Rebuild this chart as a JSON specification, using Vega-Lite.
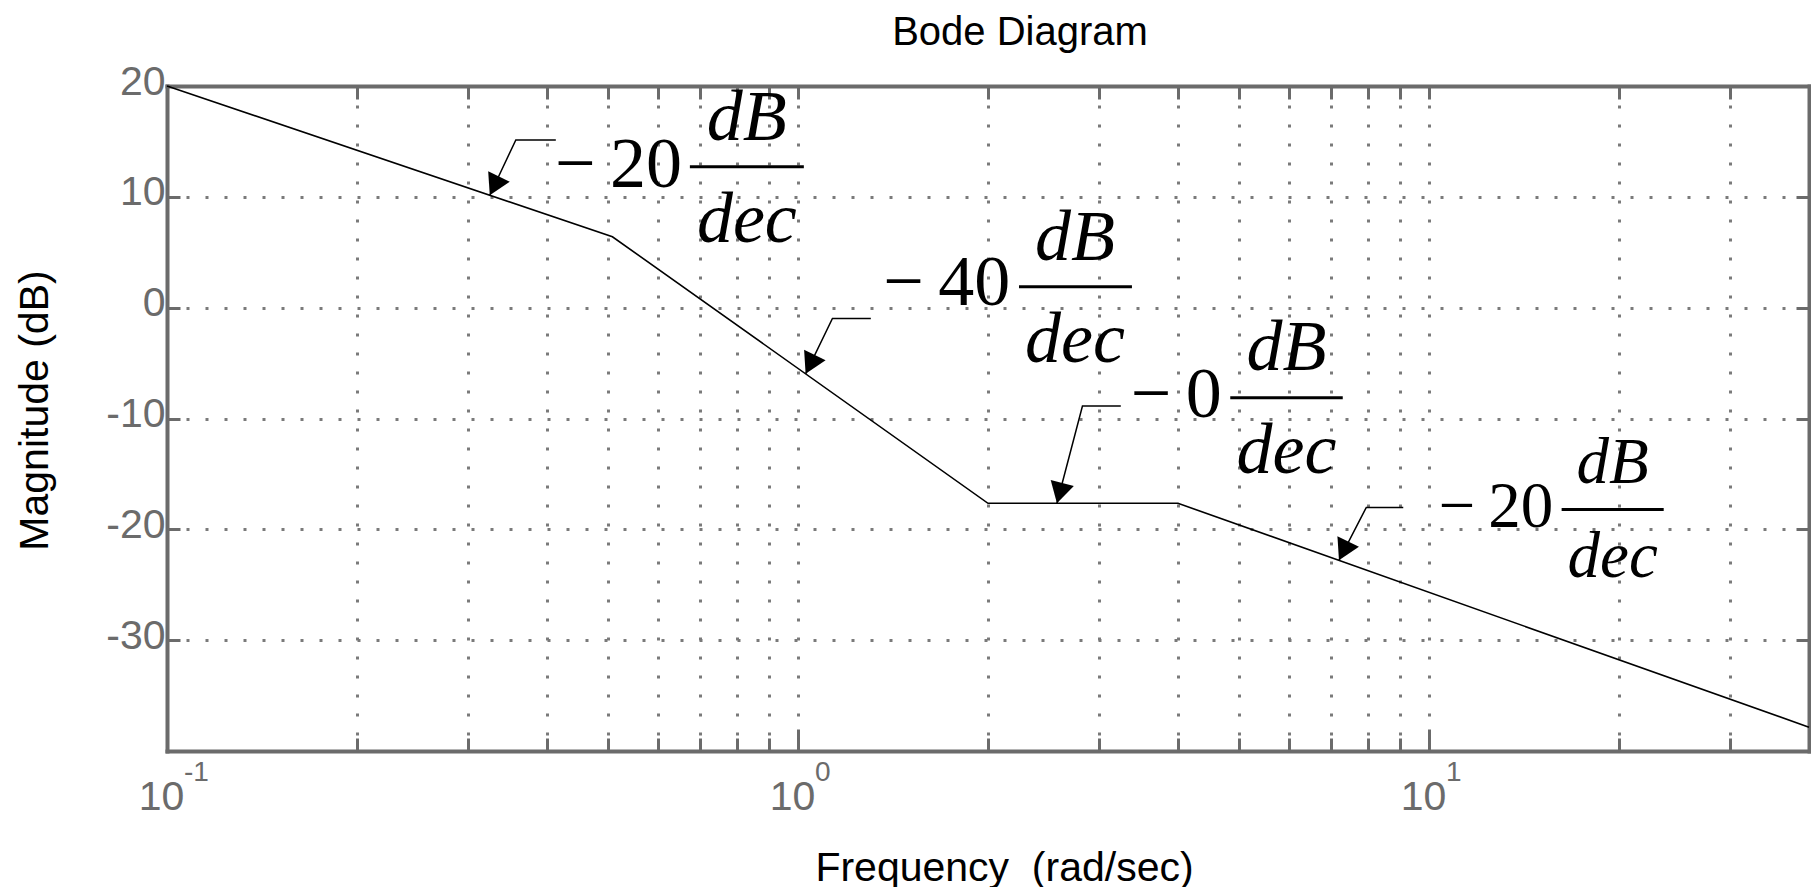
{
  "$schema": "https://vega.github.io/schema/vega-lite/v6.json",
  "width": 1642,
  "height": 665,
  "autosize": {"type": "none"},
  "padding": {"left": 167, "top": 86, "right": 2, "bottom": 136},
  "background": "white",
  "config": {"view": {"stroke": null}},
  "title": {
    "text": "Bode Diagram",
    "frame": "group",
    "anchor": "middle",
    "offset": -24,
    "baseline": "alphabetic",
    "dx": 32,
    "font": "Liberation Sans",
    "fontSize": 40,
    "fontWeight": "normal",
    "color": "black"
  },
  "datasets": {
    "bode": [
      {"f": 0.1, "db": 20},
      {"f": 0.508, "db": 6.4},
      {"f": 2, "db": -17.65},
      {"f": 4, "db": -17.65},
      {"f": 40, "db": -37.85}
    ],
    "leaders": [
      {"a": 1, "o": 1, "f": 0.4132, "db": 15.13},
      {"a": 1, "o": 2, "f": 0.3571, "db": 15.13},
      {"a": 1, "o": 3, "f": 0.3247, "db": 10.14},
      {"a": 2, "o": 1, "f": 1.3042, "db": -0.97},
      {"a": 2, "o": 2, "f": 1.1337, "db": -0.97},
      {"a": 2, "o": 3, "f": 1.0281, "db": -5.97},
      {"a": 3, "o": 1, "f": 3.247, "db": -8.88},
      {"a": 3, "o": 2, "f": 2.823, "db": -8.88},
      {"a": 3, "o": 3, "f": 2.572, "db": -17.65},
      {"a": 4, "o": 1, "f": 9.101, "db": -18.02},
      {"a": 4, "o": 2, "f": 7.953, "db": -18.02},
      {"a": 4, "o": 3, "f": 7.198, "db": -22.8}
    ],
    "bars": [
      {"id": 1, "f1": 0.6739, "f2": 1.0214, "db": 12.72},
      {"id": 2, "f1": 2.2396, "f2": 3.3817, "db": 1.89},
      {"id": 3, "f1": 4.841, "f2": 7.298, "db": -8.13},
      {"id": 4, "f1": 16.22, "f2": 23.54, "db": -18.2}
    ],
    "nums": [
      {"id": 1, "f": 0.4121, "db": 10.91, "t": "\u2212\u200920"},
      {"id": 2, "f": 1.3643, "db": 0.23, "t": "\u2212\u200940"},
      {"id": 3, "f": 3.368, "db": -9.85, "t": "\u2212\u20090"},
      {"id": 4, "f": 10.356, "db": -19.77, "t": "\u2212\u200920"}
    ],
    "fracs": [
      {"id": 1, "f": 0.8296, "db": 15.13, "t": "dB"},
      {"id": 1, "f": 0.8296, "db": 5.95, "t": "dec"},
      {"id": 2, "f": 2.746, "db": 4.3, "t": "dB"},
      {"id": 2, "f": 2.746, "db": -4.88, "t": "dec"},
      {"id": 3, "f": 5.944, "db": -5.63, "t": "dB"},
      {"id": 3, "f": 5.944, "db": -14.96, "t": "dec"},
      {"id": 4, "f": 19.54, "db": -15.86, "t": "dB"},
      {"id": 4, "f": 19.54, "db": -24.29, "t": "dec"}
    ],
    "exps": [
      {"f": 0.1, "e": "-1"},
      {"f": 1, "e": "0"},
      {"f": 10, "e": "1"}
    ]
  },
  "resolve": {"axis": {"x": "independent", "y": "independent"}},
  "layer": [
    {
      "data": {"name": "bode"},
      "mark": {"type": "line", "color": "black", "strokeWidth": 1.6},
      "encoding": {
        "x": {
          "field": "f", "type": "quantitative",
          "scale": {"type": "log", "domain": [0.1, 40], "nice": false},
          "axis": {
            "orient": "bottom",
            "values": [0.1, 1, 10],
            "labelExpr": "'10'",
            "labelFont": "Liberation Sans",
            "labelFontSize": 41,
            "labelColor": "#6b6b6b",
            "labelPadding": 80,
            "labelBaseline": "alphabetic",
            "labelAlign": "center",
            "labelOffset": -6,
            "labelFlush": false,
            "labelOverlap": false,
            "labelBound": false,
            "tickSize": -22,
            "tickWidth": 3,
            "tickColor": "#6b6b6b",
            "domain": true,
            "domainColor": "#6b6b6b",
            "domainWidth": 4,
            "domainCap": "square",
            "grid": false,
            "title": "Frequency\u00a0 (rad/sec)",
            "titleFont": "Liberation Sans",
            "titleFontSize": 41,
            "titleFontWeight": "normal",
            "titleColor": "black",
            "titleX": 837,
            "titleY": 129,
            "titleBaseline": "alphabetic",
            "titleAlign": "center"
          }
        },
        "y": {
          "field": "db", "type": "quantitative",
          "scale": {"domain": [-40, 20], "nice": false, "zero": false},
          "axis": {
            "orient": "left",
            "values": [-30, -20, -10, 0, 10, 20],
            "labelExpr": "'' + datum.value",
            "labelFont": "Liberation Sans",
            "labelFontSize": 41,
            "labelColor": "#6b6b6b",
            "labelPadding": 15,
            "labelAlign": "right",
            "labelBaseline": "middle",
            "labelOffset": -4,
            "labelOverlap": false,
            "labelBound": false,
            "labelFlush": false,
            "tickSize": -13,
            "tickWidth": 3,
            "tickColor": "#6b6b6b",
            "domain": true,
            "domainColor": "#6b6b6b",
            "domainWidth": 4,
            "domainCap": "square",
            "grid": true,
            "gridDash": [3, 16],
            "gridColor": "#7a7a7a",
            "gridWidth": 3,
            "title": "Magnitude (dB)",
            "titleFont": "Liberation Sans",
            "titleFontSize": 41,
            "titleFontWeight": "normal",
            "titleColor": "black",
            "titleAngle": -90,
            "titleX": -120,
            "titleY": 324,
            "titleBaseline": "alphabetic",
            "titleAlign": "center"
          }
        }
      }
    },
    {
      "data": {"name": "bars"},
      "mark": {"type": "rule", "color": "black", "strokeWidth": 3},
      "encoding": {
        "x": {
          "field": "f1", "type": "quantitative",
          "scale": {"type": "log", "domain": [0.1, 40], "nice": false},
          "axis": {
            "orient": "bottom",
            "values": [0.2, 0.3, 0.4, 0.5, 0.6, 0.7, 0.8, 0.9, 1, 2, 3, 4, 5, 6, 7, 8, 9, 10, 20, 30],
            "labels": false,
            "tickSize": -13,
            "tickWidth": 3,
            "tickColor": "#6b6b6b",
            "domain": false,
            "grid": true,
            "gridDash": [3, 16],
            "gridColor": "#7a7a7a",
            "gridWidth": 3,
            "title": null
          }
        },
        "x2": {"field": "f2"},
        "y": {
          "field": "db", "type": "quantitative",
          "scale": {"domain": [-40, 20], "nice": false, "zero": false},
          "axis": {
            "orient": "right",
            "values": [-30, -20, -10, 0, 10],
            "labels": false,
            "tickSize": -13,
            "tickWidth": 3,
            "tickColor": "#6b6b6b",
            "domain": true,
            "domainColor": "#6b6b6b",
            "domainWidth": 4,
            "domainCap": "square",
            "grid": false,
            "title": null
          }
        }
      }
    },
    {
      "data": {"name": "leaders"},
      "mark": {"type": "line", "color": "black", "strokeWidth": 1.5},
      "encoding": {
        "x": {
          "field": "f", "type": "quantitative",
          "scale": {"type": "log", "domain": [0.1, 40], "nice": false},
          "axis": {
            "orient": "top",
            "values": [0.2, 0.3, 0.4, 0.5, 0.6, 0.7, 0.8, 0.9, 1, 2, 3, 4, 5, 6, 7, 8, 9, 10, 20, 30],
            "labels": false,
            "tickSize": -13,
            "tickWidth": 3,
            "tickColor": "#6b6b6b",
            "domain": true,
            "domainColor": "#6b6b6b",
            "domainWidth": 4,
            "domainCap": "square",
            "grid": false,
            "title": null
          }
        },
        "y": {
          "field": "db", "type": "quantitative",
          "scale": {"domain": [-40, 20], "nice": false, "zero": false},
          "axis": null
        },
        "detail": {"field": "a", "type": "nominal"},
        "order": {"field": "o", "type": "quantitative"}
      }
    },
    {
      "data": {"name": "leaders"},
      "transform": [{"filter": "datum.o === 3"}],
      "mark": {
        "type": "point",
        "shape": "M0,0L-0.57,-1L0.57,-1Z",
        "filled": true,
        "color": "black",
        "size": 1764,
        "opacity": 1,
        "strokeWidth": 0
      },
      "encoding": {
        "x": {"field": "f", "type": "quantitative", "scale": {"type": "log", "domain": [0.1, 40], "nice": false}, "axis": null},
        "y": {"field": "db", "type": "quantitative", "scale": {"domain": [-40, 20], "nice": false, "zero": false}, "axis": null},
        "angle": {"condition": {"test": "datum.a === 3", "value": 14.7}, "value": 26}
      }
    },
    {
      "data": {"name": "nums"},
      "mark": {"type": "text", "align": "left", "baseline": "alphabetic", "font": "Liberation Serif", "color": "black"},
      "encoding": {
        "x": {"field": "f", "type": "quantitative", "scale": {"type": "log", "domain": [0.1, 40], "nice": false}, "axis": null},
        "y": {"field": "db", "type": "quantitative", "scale": {"domain": [-40, 20], "nice": false, "zero": false}, "axis": null},
        "text": {"field": "t"},
        "size": {"condition": {"test": "datum.id === 4", "value": 65}, "value": 72}
      }
    },
    {
      "data": {"name": "fracs"},
      "mark": {"type": "text", "align": "center", "baseline": "alphabetic", "font": "Liberation Serif", "fontStyle": "italic", "color": "black"},
      "encoding": {
        "x": {"field": "f", "type": "quantitative", "scale": {"type": "log", "domain": [0.1, 40], "nice": false}, "axis": null},
        "y": {"field": "db", "type": "quantitative", "scale": {"domain": [-40, 20], "nice": false, "zero": false}, "axis": null},
        "text": {"field": "t"},
        "size": {"condition": {"test": "datum.id === 4", "value": 65}, "value": 72}
      }
    },
    {
      "data": {"name": "exps"},
      "mark": {"type": "text", "align": "left", "baseline": "alphabetic", "font": "Liberation Sans", "fontSize": 28, "color": "#6b6b6b", "dx": 17, "dy": 30},
      "encoding": {
        "x": {"field": "f", "type": "quantitative", "scale": {"type": "log", "domain": [0.1, 40], "nice": false}, "axis": null},
        "y": {"datum": -40, "type": "quantitative", "scale": {"domain": [-40, 20], "nice": false, "zero": false}, "axis": null},
        "text": {"field": "e"}
      }
    }
  ]
}
